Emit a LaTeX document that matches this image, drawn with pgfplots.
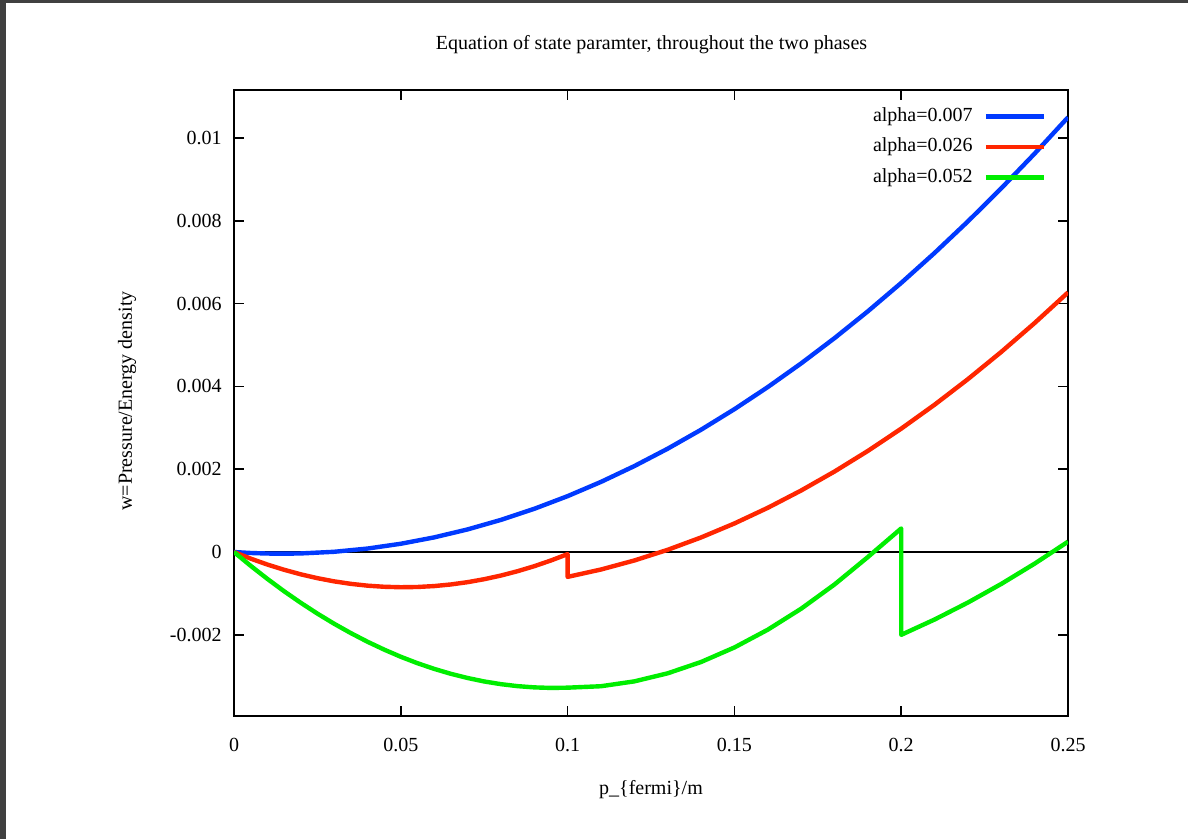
\documentclass[border=0pt]{standalone}
\usepackage{fontspec}
\setmainfont{Liberation Serif}
\usepackage{pgfplots}
\pgfplotsset{compat=1.18}
\definecolor{cblue}{RGB}{0,58,255}
\definecolor{cred}{RGB}{255,38,0}
\definecolor{cgreen}{RGB}{0,238,0}
\begin{document}
\begin{tikzpicture}[font=\fontsize{10}{12}\selectfont]
\fill[black!75] (0,0) rectangle (594pt,419.5pt);
\fill[white] (3pt,0) rectangle (594pt,418pt);
\useasboundingbox (0,0) rectangle (594pt,419.5pt);
\begin{axis}[
  at={(117pt,61.5pt)}, anchor=south west,
  scale only axis, width=417pt, height=313pt,
  xmin=0, xmax=0.25, ymin=-0.00396, ymax=0.01116,
  xtick={0,0.05,0.1,0.15,0.2,0.25},
  xticklabels={0,0.05,0.1,0.15,0.2,0.25},
  ytick={-0.002,0,0.002,0.004,0.006,0.008,0.01},
  yticklabels={-0.002,0,0.002,0.004,0.006,0.008,0.01},
  scaled ticks=false,
  axis line style={line width=1pt, black},
  every tick/.style={black, line width=0.75pt},
  major tick length=5pt,
  tick align=inside,
  xticklabel style={yshift=-7.7pt},
  yticklabel style={xshift=-2.7pt},
  legend style={draw=none, fill=none, at={(1,1)}, anchor=north east,
    xshift=-11pt, yshift=-8.7pt, inner sep=0pt, outer sep=0pt,
    row sep=6.3pt, column sep=5.5pt,
    nodes={inner sep=0pt, text height=7pt, text depth=2pt}},
  legend cell align=right,
  legend plot pos=right,
  legend image code/.code={\draw[#1] (0pt,0pt) -- (29pt,0pt);},
]
\addplot[black, line width=0.75pt, forget plot] coordinates {(0,0) (0.25,0)};
\addplot[cblue, line width=2.2pt, line join=round] coordinates {
(0,0) (0.005,-0.000023) (0.01,-0.000036) (0.015,-0.000040) (0.02,-0.000034)
(0.03,0.000006) (0.04,0.000084) (0.05,0.0002)
(0.06,0.000354) (0.07,0.000546) (0.08,0.000776) (0.09,0.001044) (0.10,0.00135)
(0.11,0.001694) (0.12,0.002076) (0.13,0.002496) (0.14,0.002954) (0.15,0.00345)
(0.16,0.003984) (0.17,0.004556) (0.18,0.005166) (0.19,0.005814) (0.20,0.0065)
(0.21,0.007224) (0.22,0.007986) (0.23,0.008786) (0.24,0.009624) (0.25,0.0105)};
\addlegendentry{alpha=0.007}
\addplot[cred, line width=2.2pt, line join=round] coordinates {
(0,0) (0.005,-0.000159) (0.01,-0.000302) (0.015,-0.000428) (0.02,-0.000538)
(0.025,-0.000631) (0.03,-0.000708) (0.035,-0.000768) (0.04,-0.000812)
(0.045,-0.000839) (0.05,-0.00085) (0.055,-0.000844) (0.06,-0.000822)
(0.065,-0.000783) (0.07,-0.000728) (0.075,-0.000656) (0.08,-0.000568)
(0.085,-0.000463) (0.09,-0.000342) (0.095,-0.000204) (0.10,-0.00005)
(0.10,-0.0006)
(0.11,-0.000422) (0.12,-0.000204) (0.13,0.000054) (0.14,0.000352)
(0.15,0.00069) (0.16,0.001068) (0.17,0.001486) (0.18,0.001944)
(0.19,0.002442) (0.20,0.00298) (0.21,0.003558) (0.22,0.004176)
(0.23,0.004834) (0.24,0.005532) (0.25,0.00627)};
\addlegendentry{alpha=0.026}
\addplot[cgreen, line width=2.2pt, line join=round] coordinates {
(0,0) (0.005,-0.000333) (0.01,-0.000648) (0.015,-0.000946) (0.02,-0.001225)
(0.025,-0.001487) (0.03,-0.001731) (0.035,-0.001957) (0.04,-0.002166)
(0.045,-0.002356) (0.05,-0.00253) (0.055,-0.002685) (0.06,-0.002822)
(0.065,-0.002941) (0.07,-0.003042) (0.075,-0.003126) (0.08,-0.003191)
(0.085,-0.003239) (0.09,-0.003269) (0.095,-0.003282) (0.10,-0.003276)
(0.11,-0.003241) (0.12,-0.003124)
(0.13,-0.002929) (0.14,-0.002656) (0.15,-0.002305) (0.16,-0.001876)
(0.17,-0.001369) (0.18,-0.000784) (0.19,-0.000121) (0.20,0.00057)
(0.20,-0.002) (0.21,-0.00163) (0.22,-0.00122) (0.23,-0.00077)
(0.24,-0.00028) (0.25,0.00025)};
\addlegendentry{alpha=0.052}
\end{axis}
\node at (325.75pt,397pt) {Equation of state paramter, throughout the two phases};
\node[rotate=90] at (63.5pt,219pt) {w=Pressure/Energy density};
\node at (325.5pt,24.5pt) {p\_\{fermi\}/m};
\end{tikzpicture}
\end{document}
